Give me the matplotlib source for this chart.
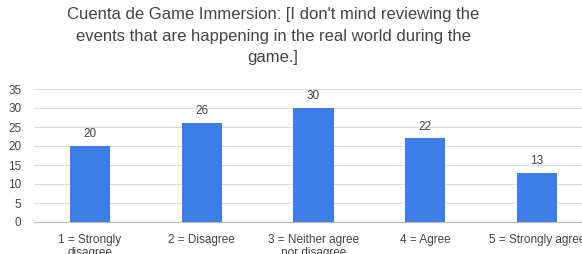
import matplotlib.pyplot as plt

categories = ['1 = Strongly\ndisagree', '2 = Disagree', '3 = Neither agree\nnor disagree',
              '4 = Agree', '5 = Strongly agree']
counts = [20, 26, 30, 22, 13]
title = "Cuenta de Game Immersion: [I don't mind reviewing the\nevents that are happening in the real world during the\ngame.]"

plt.rcParams['font.family'] = ['Liberation Sans', 'DejaVu Sans']

fig = plt.figure(figsize=(5.82, 2.54), dpi=100)
ax = fig.add_axes([34 / 582, 32 / 254, 559 / 582, 133 / 254])

x = list(range(len(categories)))
bars = ax.bar(x, counts, width=0.36, color='#3d7de8', zorder=3)
for xi, v in zip(x, counts):
    ax.text(xi, v + 1.5, str(v), ha='center', va='bottom', fontsize=8.5, color='#444444')

ax.set_xlim(-0.5, 4.5)
ax.set_ylim(0, 35)
ax.set_yticks(range(0, 36, 5))
ax.set_xticks(x)
ax.set_xticklabels(categories, fontsize=8.5, color='#444444', linespacing=1.1)
ax.tick_params(axis='y', labelsize=8.5, labelcolor='#444444', length=0, pad=9)
ax.tick_params(axis='x', length=0, pad=9)
ax.grid(axis='y', color='#dddddd', linewidth=0.8, zorder=0)
for s in ['top', 'right', 'left']:
    ax.spines[s].set_visible(False)
ax.spines['bottom'].set_color('#bbbbbb')
ax.spines['bottom'].set_zorder(4)

fig.text(273 / 582, 1 - 7 / 254, title, ha='center', va='top', fontsize=12,
         color='#444444', linespacing=1.55)

fig.savefig('out.png', dpi=100)
